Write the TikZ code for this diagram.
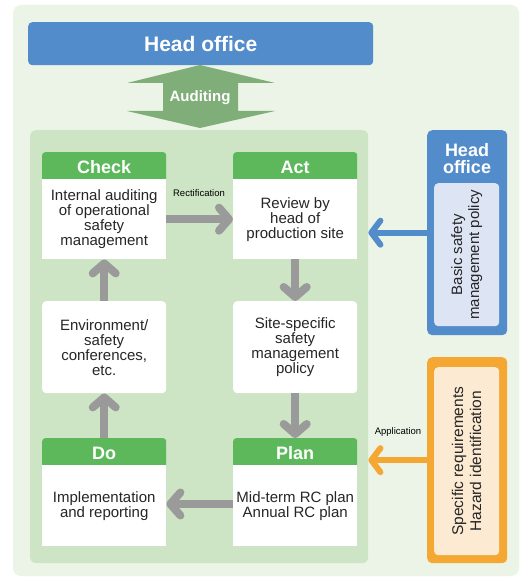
\documentclass[tikz,border=0pt]{standalone}
\usepackage{fontspec}
\setmainfont{Liberation Sans}
\usetikzlibrary{arrows.meta}
\definecolor{bgout}{HTML}{EBF4E6}
\definecolor{hoblue}{HTML}{528CCB}
\definecolor{audgreen}{HTML}{7FAE78}
\definecolor{panelgreen}{HTML}{CDE5C4}
\definecolor{hdrgreen}{HTML}{5CB85B}
\definecolor{arrgray}{HTML}{9A9A9A}
\definecolor{innerblue}{HTML}{DDE4F4}
\definecolor{orng}{HTML}{F5A733}
\definecolor{orinner}{HTML}{FCEAD2}
\definecolor{txt}{HTML}{262626}
\begin{document}
\begin{tikzpicture}[x=1pt,y=-1pt,
  hdr/.style={fill=hdrgreen, rounded corners=3pt, minimum width=124pt, minimum height=30pt, anchor=north west, inner sep=0pt, text=white, font=\fontsize{18}{18}\selectfont\bfseries},
  bodybox/.style={fill=white, minimum width=124pt, anchor=north west, inner sep=0pt, text=txt, align=center, font=\fontsize{15}{15}\selectfont},
  midbox/.style={bodybox, rounded corners=4pt, minimum height=92pt},
  grayarr/.style={draw=arrgray, line width=8pt, -{Straight Barb[length=10pt,width=23pt,round]}},
  smalllbl/.style={text=black, font=\fontsize{9.5}{9.5}\selectfont, inner sep=0pt}
]
\useasboundingbox (0,0) rectangle (527,580);
\fill[white] (0,0) rectangle (527,580);
\fill[bgout, rounded corners=8pt] (13,5) rectangle (519,576);

% top head office
\node[fill=hoblue, rounded corners=4pt, minimum width=345pt, minimum height=43pt, anchor=north west, inner sep=0pt, text=white, font=\fontsize{21}{21}\selectfont\bfseries] (ho) at (28,22) {Head office};

% green panel
\node[fill=panelgreen, rounded corners=6pt, minimum width=338pt, minimum height=433pt, anchor=north west, inner sep=0pt] (panel) at (30,130) {};

% auditing double arrow
\fill[audgreen] (200,65) -- (275,83) -- (238,83) -- (238,111) -- (275,111) -- (200,128) -- (127,111) -- (163,111) -- (163,83) -- (127,83) -- cycle;
\node[text=white, font=\fontsize{15}{15}\selectfont\bfseries, inner sep=0pt] (aud) at (200,98) {Auditing};

% Check
\node[hdr] (checkh) at (42,152) {Check};
\node[bodybox, minimum height=80pt] (check) at (42,179) {Internal auditing\\of operational\\safety\\management};
% Act
\node[hdr] (acth) at (233,152) {Act};
\node[bodybox, minimum height=80pt] (act) at (233,179) {Review by\\head of\\production site};
% middle
\node[midbox] (env) at (42,301) {Environment/\\safety\\conferences,\\etc.};
\node[midbox] (site) at (233,301) {Site-specific\\safety\\management\\policy};
% Do
\node[hdr] (doh) at (42,438) {Do};
\node[bodybox, minimum height=81pt] (do) at (42,465) {Implementation\\and reporting};
% Plan
\node[hdr] (planh) at (233,438) {Plan};
\node[bodybox, minimum height=81pt] (plan) at (233,465) {Mid-term RC plan\\Annual RC plan};

% gray arrows
\draw[grayarr] (check.east) -- (act.west);
\node[smalllbl] (rect) at (199,193) {Rectification};
\draw[grayarr] (act.south) -- (site.north);
\draw[grayarr] (site.south) -- (planh.north);
\draw[grayarr] (plan.west |- 0,504) coordinate (pw) -- (pw -| do.east);
\draw[grayarr] (doh.north) -- (env.south);
\draw[grayarr] (env.north) -- (check.south);

% right head office box
\node[fill=hoblue, rounded corners=5pt, minimum width=80pt, minimum height=205pt, anchor=north west, inner sep=0pt] (hob) at (427,130) {};
\node[text=white, align=center, font=\fontsize{18}{17}\selectfont\bfseries, inner sep=0pt] (hobt) at (467,159) {Head\\office};
\node[fill=innerblue, rounded corners=4pt, minimum width=65pt, minimum height=143pt, anchor=north west, inner sep=0pt] (hobi) at (434,183) {};
\node[rotate=90, align=center, text=txt, font=\fontsize{15}{17}\selectfont, inner sep=0pt] (hobtxt) at (hobi.center) {Basic safety\\management policy};
\draw[draw=hoblue, line width=6pt, -{Straight Barb[length=9pt,width=24pt,round]}] (hob.west) -- (hob.west -| panel.east);

% orange box
\node[fill=orng, rounded corners=5pt, minimum width=80pt, minimum height=206pt, anchor=north west, inner sep=0pt] (ob) at (427,357) {};
\node[fill=orinner, rounded corners=4pt, minimum width=65pt, minimum height=188pt, anchor=north west, inner sep=0pt] (obi) at (434,367) {};
\node[rotate=90, align=center, text=txt, font=\fontsize{15.5}{18}\selectfont, inner sep=0pt] (obtxt) at (obi.center) {Specific requirements\\Hazard identification};
\draw[draw=orng, line width=6pt, -{Straight Barb[length=9pt,width=24pt,round]}] (ob.west) -- (ob.west -| panel.east);
\node[smalllbl] (appl) at (398,432) {Application};
\end{tikzpicture}
\end{document}
